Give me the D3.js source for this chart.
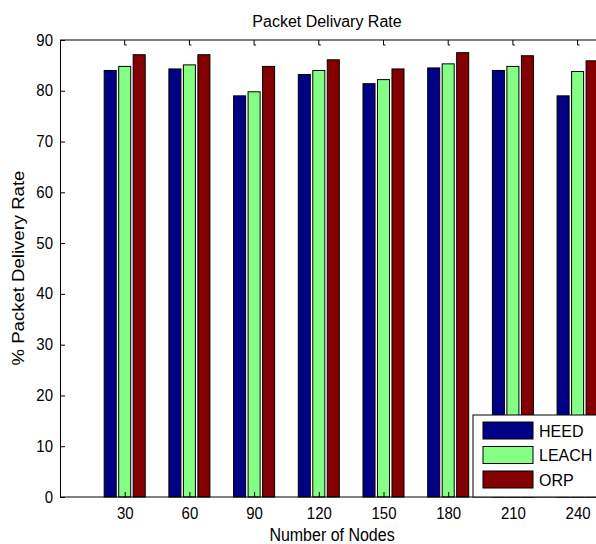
<!DOCTYPE html>
<html><head><meta charset="utf-8">
<script src="https://cdn.jsdelivr.net/npm/d3@7"></script>
<style>body{margin:0;background:#fff}svg{display:block}text{font-family:"Liberation Sans",Arial,sans-serif;fill:#000}</style>
</head><body><svg id="c" width="596" height="544"></svg>
<script>
const categories = [30, 60, 90, 120, 150, 180, 210, 240];
const seriesNames = ["HEED", "LEACH", "ORP"];
const heed  = [84.0, 84.3, 79.0, 83.2, 81.4, 84.5, 84.0, 79.0];
const leach = [84.8, 85.1, 79.8, 84.0, 82.2, 85.3, 84.8, 83.8];
const orp   = [87.1, 87.1, 84.8, 86.1, 84.3, 87.5, 86.9, 85.9];
const yTicks = [0, 10, 20, 30, 40, 50, 60, 70, 80, 90];
const colors = ["#000084", "#84ff84", "#840000"];

const series = [heed, leach, orp];
const svg = d3.select("#c");
const L = 60, T = 40, B = 497;
const x = d3.scaleLinear().domain([0, 270]).range([L, L + 9 * 64.7]);
const y = d3.scaleLinear().domain([0, 90]).range([B, T]);
const step = x(30) - x(0);
const barW = step * 0.186;
const off = step * 0.224;

// bars
series.forEach((vals, si) => {
  svg.append("g").selectAll("rect").data(vals).join("rect")
    .attr("x", (d, i) => x(categories[i]) + (si - 1) * off - barW / 2)
    .attr("y", d => y(d))
    .attr("width", barW)
    .attr("height", d => y(0) - y(d))
    .attr("fill", colors[si])
    .attr("stroke", "#000").attr("stroke-width", 1);
});

// axes frame
svg.append("line").attr("x1", L).attr("x2", 700).attr("y1", T).attr("y2", T).attr("stroke", "#000");
svg.append("line").attr("x1", L).attr("x2", 700).attr("y1", B).attr("y2", B).attr("stroke", "#000");

const yAxis = svg.append("g").attr("transform", `translate(${L},0)`)
  .call(d3.axisLeft(y).tickValues(yTicks).tickSize(-5).tickPadding(7).tickFormat(d3.format("d")));
yAxis.select(".domain").attr("stroke", "#000");
yAxis.selectAll("text").style("font-size", "15px").attr("fill", "#000")
  .attr("transform", "scale(1,1.06)");

const xAxis = svg.append("g").attr("transform", `translate(0,${B})`)
  .call(d3.axisBottom(x).tickValues(categories).tickSize(-5).tickPadding(10).tickSizeOuter(0));
xAxis.select(".domain").remove();
xAxis.selectAll("text").style("font-size", "15px").attr("fill", "#000")
  .attr("transform", "scale(1,1.06)");

// top ticks
svg.append("g").selectAll("path").data(categories).join("path")
  .attr("d", d => `M${x(d)},${T}V${T + 5}H${x(d) + 2}`)
  .attr("fill", "none").attr("stroke", "#000");

// title & labels
svg.append("text").attr("transform", "translate(327,26.5) scale(1,1.08)").attr("text-anchor", "middle")
  .style("font-size", "16px").text("Packet Delivary Rate");
svg.append("text").attr("transform", "translate(332,541) scale(1,1.12)").attr("text-anchor", "middle")
  .style("font-size", "16px").text("Number of Nodes");
svg.append("text").attr("transform", "translate(24,268) rotate(-90) scale(1.16,1)").attr("text-anchor", "middle")
  .style("font-size", "16px").text("% Packet Delivery Rate");

// legend
const lg = svg.append("g");
lg.append("rect").attr("x", 473).attr("y", 415).attr("width", 140).attr("height", 82)
  .attr("fill", "#fff").attr("stroke", "#000");
seriesNames.forEach((n, i) => {
  const yy = 422 + i * 24.5;
  lg.append("rect").attr("x", 483).attr("y", yy).attr("width", 50).attr("height", 17)
    .attr("fill", colors[i]).attr("stroke", "#000");
  lg.append("text").attr("x", 539).attr("y", yy + 14.5).style("font-size", "16px").text(n);
});
</script></body></html>
